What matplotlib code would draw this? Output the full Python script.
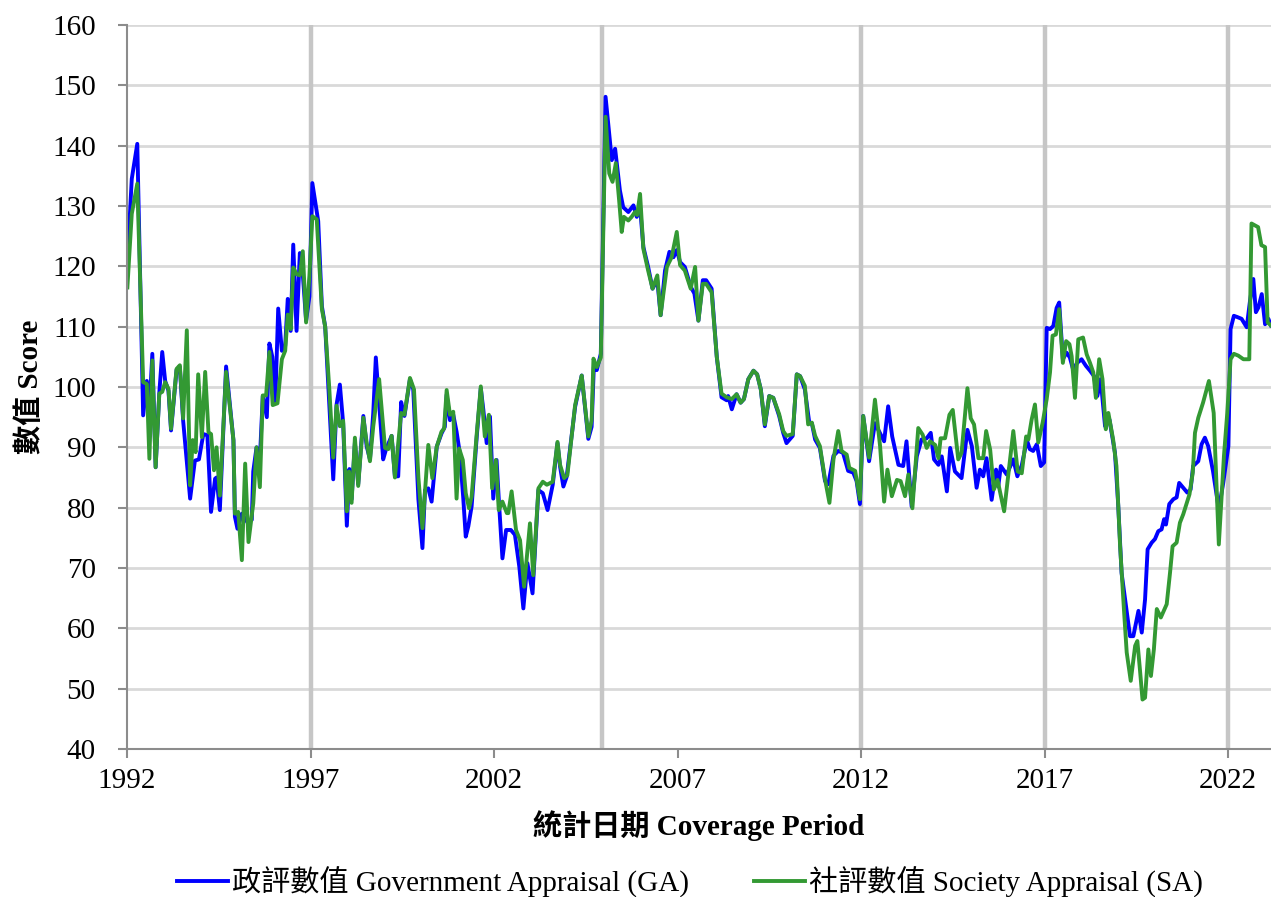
import matplotlib
matplotlib.use('Agg')
import matplotlib.pyplot as plt
from matplotlib.lines import Line2D

# ---------------- data ----------------
ga_year = [1992.01, 1992.13, 1992.28, 1992.44, 1992.54, 1992.61, 1992.69, 1992.78, 1992.88, 1992.96,
           1993.04, 1993.13, 1993.20, 1993.35, 1993.44, 1993.53, 1993.72, 1993.85, 1993.96, 1994.08,
           1994.19, 1994.29, 1994.40, 1994.44, 1994.53, 1994.70, 1994.90, 1994.94, 1995.01, 1995.13,
           1995.29, 1995.40, 1995.44, 1995.53, 1995.62, 1995.70, 1995.81, 1995.88, 1995.96, 1996.04,
           1996.12, 1996.22, 1996.31, 1996.38, 1996.46, 1996.53, 1996.62, 1996.71, 1996.79, 1996.88,
           1996.97, 1997.05, 1997.21, 1997.31, 1997.40, 1997.51, 1997.62, 1997.71, 1997.80, 1997.89,
           1997.99, 1998.06, 1998.12, 1998.21, 1998.30, 1998.44, 1998.53, 1998.62, 1998.71, 1998.78,
           1998.98, 1999.06, 1999.21, 1999.30, 1999.39, 1999.47, 1999.56, 1999.71, 1999.80, 1999.94,
           2000.05, 2000.12, 2000.21, 2000.30, 2000.44, 2000.57, 2000.66, 2000.71, 2000.80, 2000.89,
           2000.98, 2001.07, 2001.16, 2001.23, 2001.30, 2001.39, 2001.53, 2001.64, 2001.71, 2001.80,
           2001.89, 2001.98, 2002.07, 2002.14, 2002.23, 2002.33, 2002.46, 2002.57, 2002.69, 2002.80,
           2002.91, 2003.05, 2003.21, 2003.33, 2003.46, 2003.60, 2003.73, 2003.80, 2003.89, 2003.98,
           2004.21, 2004.39, 2004.57, 2004.66, 2004.72, 2004.80, 2004.91, 2005.04, 2005.21, 2005.30,
           2005.43, 2005.52, 2005.66, 2005.80, 2005.89, 2005.98, 2006.07, 2006.20, 2006.32, 2006.45,
           2006.54, 2006.66, 2006.78, 2006.89, 2006.98, 2007.07, 2007.20, 2007.36, 2007.46, 2007.57,
           2007.69, 2007.78, 2007.93, 2008.07, 2008.20, 2008.34, 2008.38, 2008.48, 2008.61, 2008.72,
           2008.81, 2008.93, 2009.07, 2009.17, 2009.27, 2009.38, 2009.50, 2009.61, 2009.77, 2009.88,
           2009.97, 2010.14, 2010.25, 2010.34, 2010.47, 2010.59, 2010.66, 2010.75, 2010.88, 2011.02,
           2011.11, 2011.25, 2011.38, 2011.51, 2011.65, 2011.79, 2011.88, 2011.97, 2012.06, 2012.22,
           2012.38, 2012.63, 2012.74, 2012.85, 2013.02, 2013.15, 2013.24, 2013.38, 2013.52, 2013.65,
           2013.79, 2013.90, 2013.99, 2014.11, 2014.20, 2014.34, 2014.43, 2014.56, 2014.74, 2014.90,
           2015.02, 2015.15, 2015.24, 2015.33, 2015.42, 2015.56, 2015.68, 2015.74, 2015.81, 2015.97,
           2016.15, 2016.26, 2016.38, 2016.52, 2016.60, 2016.69, 2016.79, 2016.90, 2016.99, 2017.06,
           2017.15, 2017.24, 2017.33, 2017.40, 2017.50, 2017.60, 2017.69, 2017.78, 2017.89, 2018.01,
           2018.13, 2018.24, 2018.35, 2018.44, 2018.53, 2018.65, 2018.77, 2018.92, 2019.01, 2019.10,
           2019.22, 2019.33, 2019.42, 2019.56, 2019.65, 2019.74, 2019.81, 2019.92, 2020.01, 2020.10,
           2020.19, 2020.26, 2020.31, 2020.40, 2020.51, 2020.60, 2020.67, 2020.78, 2020.89, 2020.98,
           2021.05, 2021.19, 2021.28, 2021.37, 2021.46, 2021.59, 2021.75, 2021.87, 2022.01, 2022.07,
           2022.16, 2022.25, 2022.37, 2022.51, 2022.60, 2022.69, 2022.76, 2022.83, 2022.92, 2023.01,
           2023.10, 2023.17]
ga_value = [120.5, 134.5, 140.3, 95.3, 101, 96, 105.5, 86.7, 99, 105.8,
            101, 99.4, 92.8, 102.8, 103.3, 94.4, 81.5, 87.8, 88, 92.2,
            92, 79.3, 84.8, 85, 79.6, 103.4, 91.2, 78.5, 76.5, 79,
            77.5, 78, 86, 90, 88, 98.5, 95, 107.2, 105, 97.5,
            113, 106, 106.8, 114.6, 109.3, 123.6, 109.3, 122.2, 118.7, 111,
            115, 133.8, 127.5, 113.4, 110, 97.4, 84.7, 97.1, 100.4, 94,
            77, 86.4, 81.4, 90.8, 83.9, 95.2, 90.2, 88, 95.7, 104.9,
            88, 89.7, 91.9, 85.2, 85.2, 97.5, 95.2, 101.3, 99.6, 81.4,
            73.3, 82.9, 83.2, 81, 90.1, 92.3, 93.4, 98.7, 94.5, 95.4,
            92.6, 89, 81.8, 75.2, 76.9, 80.2, 91.8, 99.8, 96.2, 90.7,
            95.1, 81.5, 87.9, 80.4, 71.6, 76.3, 76.3, 75.5, 70.2, 63.3,
            70.8, 65.8, 82.9, 82.4, 79.6, 83.8, 90.7, 86.8, 83.5, 85.1,
            96.7, 101.9, 91.4, 93.4, 103.3, 102.8, 105.5, 148.1, 137.6, 139.5,
            132.6, 129.8, 129, 130.1, 128.2, 129.8, 123.2, 119.9, 116.3, 117.7,
            111.9, 119.3, 122.4, 121.5, 122.7, 120.7, 119.9, 116.6, 115.5, 111,
            117.7, 117.7, 116.3, 105, 98.3, 97.8, 98.5, 96.3, 98.8, 97.4,
            98, 101.3, 102.7, 102.1, 99.6, 93.5, 98.5, 98.2, 95.2, 92.4,
            90.7, 91.9, 102.1, 101.8, 99.6, 94.1, 94, 91.3, 89.9, 84.4,
            83.9, 88.6, 89.4, 89.1, 86.1, 85.8, 84.4, 80.6, 95.2, 87.7,
            94, 91, 96.8, 91.8, 87.1, 86.9, 91, 80.2, 88.5, 91.3,
            91.5, 92.4, 88, 87.1, 88.5, 82.7, 89.9, 86, 84.9, 92.9,
            90.2, 83.3, 86.3, 85.2, 88.2, 81.3, 86.3, 83.5, 86.9, 85.5,
            88, 85.2, 87, 91.2, 89.7, 89.4, 90.5, 86.9, 87.5, 109.8,
            109.6, 110.1, 113.1, 114, 104.6, 105.7, 104.9, 102.9, 104, 104.6,
            103.5, 102.7, 101.8, 98.5, 101.3, 93.5, 94.6, 89.1, 80.3, 69.2,
            63.7, 58.7, 58.7, 62.9, 59.3, 64.8, 73.1, 74.2, 74.8, 76.1,
            76.4, 78.1, 77.2, 80.6, 81.4, 81.7, 84.1, 83.3, 82.5, 83,
            86.9, 87.7, 90.5, 91.6, 90.2, 86.1, 79.7, 84.1, 90.2, 109.6,
            111.8, 111.6, 111.3, 109.9, 114.3, 117.9, 112.4, 113.2, 115.4, 110.4,
            111.3, 110.2]

sa_year = [1992.01, 1992.13, 1992.28, 1992.44, 1992.54, 1992.61, 1992.69, 1992.78, 1992.88, 1992.96,
           1993.04, 1993.13, 1993.20, 1993.35, 1993.44, 1993.53, 1993.63, 1993.72, 1993.79, 1993.87,
           1993.94, 1994.04, 1994.13, 1994.22, 1994.29, 1994.37, 1994.44, 1994.53, 1994.70, 1994.90,
           1994.94, 1995.03, 1995.13, 1995.22, 1995.31, 1995.44, 1995.53, 1995.62, 1995.70, 1995.79,
           1995.88, 1995.97, 1996.10, 1996.22, 1996.31, 1996.38, 1996.46, 1996.53, 1996.62, 1996.71,
           1996.79, 1996.88, 1996.97, 1997.05, 1997.17, 1997.31, 1997.40, 1997.51, 1997.62, 1997.71,
           1997.80, 1997.89, 1997.99, 1998.05, 1998.12, 1998.21, 1998.30, 1998.44, 1998.53, 1998.62,
           1998.71, 1998.87, 1999.03, 1999.12, 1999.21, 1999.30, 1999.47, 1999.56, 1999.71, 1999.82,
           1999.94, 2000.05, 2000.21, 2000.32, 2000.44, 2000.57, 2000.64, 2000.71, 2000.80, 2000.89,
           2000.98, 2001.05, 2001.15, 2001.23, 2001.32, 2001.39, 2001.53, 2001.64, 2001.75, 2001.86,
           2001.95, 2002.05, 2002.13, 2002.23, 2002.35, 2002.39, 2002.48, 2002.60, 2002.71, 2002.82,
           2002.98, 2003.07, 2003.21, 2003.33, 2003.44, 2003.60, 2003.73, 2003.80, 2003.91, 2004.00,
           2004.21, 2004.39, 2004.57, 2004.66, 2004.71, 2004.80, 2004.91, 2005.04, 2005.14, 2005.23,
           2005.32, 2005.41, 2005.48, 2005.54, 2005.66, 2005.75, 2005.84, 2005.90, 2005.98, 2006.07,
           2006.20, 2006.32, 2006.45, 2006.54, 2006.71, 2006.84, 2006.98, 2007.07, 2007.20, 2007.36,
           2007.48, 2007.57, 2007.69, 2007.78, 2007.93, 2008.07, 2008.20, 2008.34, 2008.48, 2008.61,
           2008.72, 2008.81, 2008.93, 2009.07, 2009.17, 2009.27, 2009.38, 2009.50, 2009.61, 2009.77,
           2009.88, 2009.97, 2010.14, 2010.25, 2010.34, 2010.47, 2010.56, 2010.66, 2010.75, 2010.88,
           2011.02, 2011.14, 2011.25, 2011.38, 2011.47, 2011.61, 2011.68, 2011.84, 2011.97, 2012.06,
           2012.22, 2012.38, 2012.52, 2012.63, 2012.72, 2012.84, 2012.98, 2013.08, 2013.20, 2013.29,
           2013.40, 2013.56, 2013.68, 2013.79, 2013.88, 2014.02, 2014.11, 2014.17, 2014.29, 2014.41,
           2014.50, 2014.65, 2014.74, 2014.90, 2014.99, 2015.08, 2015.20, 2015.33, 2015.41, 2015.52,
           2015.62, 2015.72, 2015.90, 2016.15, 2016.27, 2016.38, 2016.50, 2016.56, 2016.65, 2016.74,
           2016.83, 2016.95, 2017.06, 2017.15, 2017.22, 2017.31, 2017.40, 2017.50, 2017.59, 2017.68,
           2017.74, 2017.83, 2017.92, 2018.05, 2018.15, 2018.24, 2018.33, 2018.40, 2018.49, 2018.58,
           2018.67, 2018.74, 2018.87, 2018.96, 2019.06, 2019.17, 2019.24, 2019.35, 2019.47, 2019.53,
           2019.60, 2019.67, 2019.74, 2019.83, 2019.90, 2019.98, 2020.06, 2020.17, 2020.33, 2020.42,
           2020.49, 2020.60, 2020.69, 2020.78, 2020.95, 2021.04, 2021.10, 2021.19, 2021.32, 2021.48,
           2021.61, 2021.75, 2021.89, 2021.98, 2022.07, 2022.16, 2022.28, 2022.42, 2022.58, 2022.64,
           2022.82, 2022.91, 2023.01, 2023.08, 2023.17]
sa_value = [116.5, 128.7, 133.7, 100.8, 100.5, 88.1, 104.4, 86.7, 98.9, 99.2,
            100.8, 99.7, 93.1, 103, 103.6, 94.8, 109.4, 83.7, 91.2, 89.2,
            102.1, 91.7, 102.5, 92.5, 92.2, 86.2, 90, 82, 102.5, 91.2,
            79, 79.3, 71.3, 87.3, 74.3, 80.7, 90, 83.4, 98.6, 98.6,
            105.8, 97, 97.3, 104.6, 106, 112, 109.6, 119.8, 118.7, 118.5,
            122.5, 110.7, 118.4, 128.3, 127.8, 112.9, 110, 99.9, 88.3, 96.9,
            93.5, 94.4, 79.4, 86, 80.8, 91.6, 83.6, 94.9, 90.8, 87.7,
            93.5, 101.3, 89.9, 89.7, 91.9, 85, 95.7, 95.4, 101.5, 99.6,
            85, 76.6, 90.4, 84.9, 90.1, 92.6, 93.1, 99.5, 95.4, 95.9,
            81.5, 89.8, 87.9, 82.4, 79.9, 81.8, 92.3, 100.1, 91.8, 95.4,
            83.2, 87.9, 79.6, 81, 79.1, 79.1, 82.7, 76.3, 74.6, 66.9,
            77.4, 68.8, 83.2, 84.3, 83.8, 84.3, 90.9, 87.1, 84.9, 85.4,
            97, 101.9, 91.8, 94.5, 104.7, 103.3, 104.9, 144.8, 135.4, 134,
            137.1, 130.9, 125.7, 128.2, 127.6, 128.2, 129, 128.5, 132, 122.9,
            119.3, 116.3, 118.5, 111.9, 119.9, 121.5, 125.7, 120.2, 119.3, 116.3,
            119.9, 111, 117.1, 117.1, 115.7, 105, 98.9, 98.3, 98, 98.8,
            97.4, 98, 101.3, 102.7, 102.1, 99.6, 93.8, 98.5, 98.2, 95.5,
            92.7, 91.9, 92.2, 102.1, 101.8, 100.2, 93.8, 94.1, 91.9, 90.2,
            84.7, 80.8, 88, 92.7, 89.4, 88.8, 86.6, 86.1, 81.4, 95.2,
            88.3, 97.9, 90.2, 81, 86.3, 81.9, 84.6, 84.4, 81.9, 85.5,
            79.9, 93.2, 92.1, 89.9, 91, 90.4, 88.2, 91.5, 91.5, 95.4,
            96.2, 88, 89.1, 99.8, 94.8, 93.8, 88.2, 88.2, 92.7, 89.6,
            83, 84.6, 79.4, 92.7, 86, 85.7, 91.8, 91.3, 94.6, 97.1,
            90.8, 94.1, 98, 102.4, 108.5, 108.7, 112.9, 104, 107.6, 107.1,
            105.1, 98.2, 107.9, 108.2, 105.4, 104, 102.4, 98.2, 104.6, 101.3,
            93, 95.7, 91.3, 86.9, 73.6, 62.6, 56, 51.3, 57.1, 57.9,
            53.2, 48.2, 48.5, 56.5, 52.1, 56.5, 63.2, 61.8, 64, 69.2,
            73.6, 74.2, 77.5, 78.9, 82.2, 85.8, 92.4, 94.9, 97.4, 101,
            95.7, 73.9, 88.6, 95.7, 104.6, 105.5, 105.2, 104.6, 104.6, 127.1,
            126.5, 123.5, 123.2, 110.7, 110.2]

event_years = [1997.0, 2004.94, 2012.0, 2017.0, 2022.0]
x_ticks = [1992, 1997, 2002, 2007, 2012, 2017, 2022]
y_ticks = [40, 50, 60, 70, 80, 90, 100, 110, 120, 130, 140, 150, 160]
ga_label = '政評數值 Government Appraisal (GA)'
sa_label = '社評數值 Society Appraisal (SA)'
x_title = '統計日期 Coverage Period'
y_title = '數值 Score'

# ---------------- styling ----------------
FAM = ['Liberation Serif', 'Noto Sans CJK TC', 'DejaVu Sans']
plt.rcParams['font.family'] = FAM
FS = 21
GA_COLOR = '#0000FF'
SA_COLOR = '#339933'
AXIS_GRAY = '#8c8c8c'
LW = 2.8

W, H = 1271, 897
fig = plt.figure(figsize=(W / 100, H / 100), dpi=100)
ax = fig.add_axes([127 / W, 1 - 749 / H, (1271 - 127) / W, (749 - 25) / H])

x_right = 1992 + (1271 - 127) / 36.7
ax.set_xlim(1992, x_right)
ax.set_ylim(40, 160)

ax.set_yticks(y_ticks)
ax.set_xticks(x_ticks)
ax.yaxis.grid(True, color='#d9d9d9', linewidth=2, zorder=0)
ax.xaxis.grid(False)
ax.set_axisbelow(True)

for ev in event_years:
    ax.axvline(ev, color='#c6c6c6', linewidth=3.2, zorder=1)

ax.plot(ga_year, ga_value, color=GA_COLOR, linewidth=LW, zorder=3,
        solid_joinstyle='round')
ax.plot(sa_year, sa_value, color=SA_COLOR, linewidth=LW, zorder=4,
        solid_joinstyle='round')

for s in ['top', 'right']:
    ax.spines[s].set_visible(False)
for s in ['left', 'bottom']:
    ax.spines[s].set_color(AXIS_GRAY)
    ax.spines[s].set_linewidth(1.5)
    ax.spines[s].set_zorder(5)

ax.tick_params(axis='y', direction='out', length=6.5, width=1.5, color=AXIS_GRAY,
               labelsize=FS, pad=16)
ax.tick_params(axis='x', direction='out', length=6.5, width=1.5, color=AXIS_GRAY,
               labelsize=FS, pad=7)
for lab in ax.get_xticklabels() + ax.get_yticklabels():
    lab.set_family(FAM)

fig.text(30 / W, 1 - 387 / H, y_title, rotation=90, ha='center', va='center',
         fontsize=FS, fontweight='bold', family=FAM)
fig.text(699 / W, 1 - 826 / H, x_title, ha='center', va='center',
         fontsize=FS, fontweight='bold', family=FAM)

handles = [Line2D([], [], color=GA_COLOR, linewidth=LW),
           Line2D([], [], color=SA_COLOR, linewidth=LW)]
fig.legend(handles, [ga_label, sa_label], loc='center',
           bbox_to_anchor=(690 / W, 1 - 882 / H), ncol=2, frameon=False,
           prop={'family': FAM, 'size': FS}, handlelength=1.75,
           handletextpad=0.15, columnspacing=2.2)

fig.savefig('out.png', dpi=100)
